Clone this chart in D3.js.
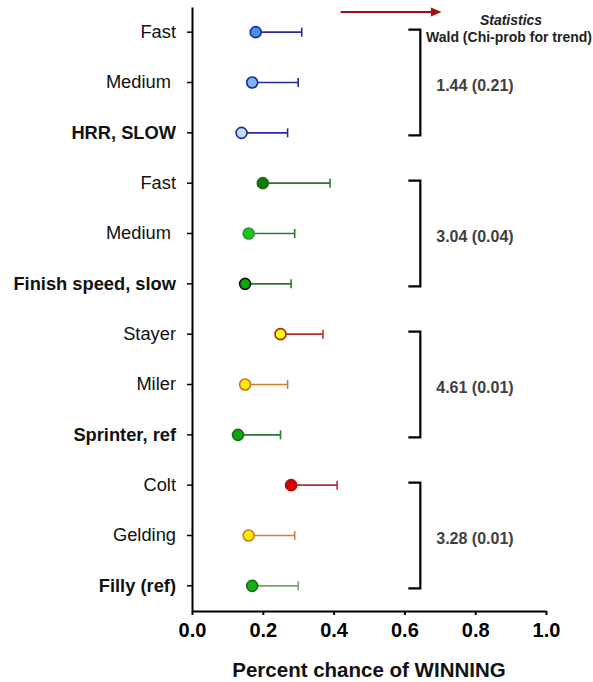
<!DOCTYPE html>
<html>
<head>
<meta charset="utf-8">
<script src="https://cdn.jsdelivr.net/npm/d3@7"></script>
<style>
  html, body { margin: 0; padding: 0; background: #fff; }
  svg { display: block; font-family: "Liberation Sans", Arial, sans-serif; }
  text { white-space: pre; }
</style>
</head>
<body>
<svg id="chart" width="593" height="682"></svg>
<script>
// ---- data ----
const categories = ["Fast", "Medium ", "HRR, SLOW",
                    "Fast", "Medium ", "Finish speed, slow",
                    "Stayer", "Miler", "Sprinter, ref",
                    "Colt", "Gelding", "Filly (ref)"];
const referenceRows = ["HRR, SLOW", "Finish speed, slow", "Sprinter, ref", "Filly (ref)"];
const estimates = [0.18, 0.17, 0.14, 0.20, 0.16, 0.15, 0.25, 0.15, 0.13, 0.28, 0.16, 0.17];
const upperCI   = [0.31, 0.30, 0.27, 0.39, 0.29, 0.28, 0.37, 0.27, 0.25, 0.41, 0.29, 0.30];
const groupStats = ["1.44 (0.21)", "3.04 (0.04)", "4.61 (0.01)", "3.28 (0.01)"];
const groupSize = 3;
const xTicks = [0, 0.2, 0.4, 0.6, 0.8, 1.0];

// ---- styles ----
const fillColors   = ["#4a8ef0", "#7db0f4", "#c6dcf6",
                      "#0b7a0b", "#1ec41e", "#0aa80a",
                      "#ffff00", "#ffee00", "#0aa80a",
                      "#e00000", "#ffee00", "#14b014"];
const strokeColors = ["#1c2a9a", "#1c2a9a", "#1c2a9a",
                      "#1c6a1c", "#2a9a2a", "#111111",
                      "#b02020", "#d07020", "#1c6a1c",
                      "#a01010", "#d07a20", "#1c6a1c"];
const lineColors   = ["#2a2aa0", "#2a2aa0", "#2a2aa0",
                      "#2a7a2a", "#2a7a2a", "#2a7a2a",
                      "#b83030", "#d07a30", "#2a7a2a",
                      "#b83030", "#d08030", "#70a870"];

const svg = d3.select("#chart");
const x = d3.scaleLinear().domain([0, 1]).range([192, 546]);
const y = d3.scaleBand().domain(d3.range(categories.length)).range([7, 611]).padding(0);
const yc = i => y(i) + y.bandwidth() / 2;

// ---- axes ----
const xAxis = svg.append("g")
  .attr("transform", "translate(0,611)")
  .call(d3.axisBottom(x).tickValues(xTicks).tickFormat(d3.format(".1f")).tickSizeInner(4).tickSizeOuter(0).tickPadding(8));
xAxis.select(".domain").attr("stroke", "#000").attr("stroke-width", 2);
xAxis.selectAll(".tick line").attr("stroke", "#000").attr("stroke-width", 2);
xAxis.selectAll(".tick text").attr("font-size", 20).attr("font-weight", "bold").attr("fill", "#000")
  .attr("font-family", "Liberation Sans, Arial, sans-serif");

const yAxis = svg.append("g")
  .attr("transform", "translate(192,0)")
  .call(d3.axisLeft(y).tickFormat(i => categories[i]).tickSizeInner(5).tickSizeOuter(0).tickPadding(11));
yAxis.select(".domain").attr("stroke", "#000").attr("stroke-width", 2);
yAxis.selectAll(".tick line").attr("stroke", "#000").attr("stroke-width", 1.5);
yAxis.selectAll(".tick text")
  .attr("font-size", 18.3)
  .attr("font-family", "Liberation Sans, Arial, sans-serif")
  .attr("fill", "#111")
  .attr("font-weight", i => referenceRows.includes(categories[i]) ? "bold" : "normal")
  .style("white-space", "pre");

// axis title
svg.append("text")
  .attr("x", (x(0) + x(1)) / 2).attr("y", 677)
  .attr("text-anchor", "middle")
  .attr("font-size", 20.5).attr("font-weight", "bold").attr("fill", "#111")
  .text("Percent chance of WINNING");

// ---- error bars ----
const rows = d3.range(categories.length);
const bars = svg.append("g");
bars.selectAll("line.err").data(rows).join("line")
  .attr("class", "err")
  .attr("x1", i => x(estimates[i])).attr("x2", i => x(upperCI[i]))
  .attr("y1", yc).attr("y2", yc)
  .attr("stroke", i => lineColors[i]).attr("stroke-width", 1.6);
bars.selectAll("line.cap").data(rows).join("line")
  .attr("class", "cap")
  .attr("x1", i => x(upperCI[i])).attr("x2", i => x(upperCI[i]))
  .attr("y1", i => yc(i) - 4.5).attr("y2", i => yc(i) + 4.5)
  .attr("stroke", i => lineColors[i]).attr("stroke-width", 1.6);
bars.selectAll("circle").data(rows).join("circle")
  .attr("cx", i => x(estimates[i])).attr("cy", yc).attr("r", 5.5)
  .attr("fill", i => fillColors[i]).attr("stroke", i => strokeColors[i]).attr("stroke-width", 1.6);

// ---- brackets & statistics ----
const bx = x(0.645), arm = 12;
const br = svg.append("g");
groupStats.forEach((s, g) => {
  const top = yc(g * groupSize) - 2.5;
  const bot = yc(g * groupSize + groupSize - 1) + 2.5;
  br.append("path")
    .attr("d", `M${bx - arm},${top}H${bx}V${bot}H${bx - arm}`)
    .attr("fill", "none").attr("stroke", "#000").attr("stroke-width", 2.2);
  br.append("text")
    .attr("x", x(0.69)).attr("y", yc(g * groupSize + 1) + 3)
    .attr("dy", "0.35em")
    .attr("font-size", 16).attr("font-weight", "bold").attr("fill", "#404040")
    .text(s);
});

// ---- header annotation ----
const arrowY = 12;
svg.append("line")
  .attr("x1", x(0.42)).attr("x2", x(0.68))
  .attr("y1", arrowY).attr("y2", arrowY)
  .attr("stroke", "#a01010").attr("stroke-width", 2);
svg.append("path")
  .attr("d", `M${x(0.675)},${arrowY - 4.5}L${x(0.705)},${arrowY}L${x(0.675)},${arrowY + 4.5}Z`)
  .attr("fill", "#a01010");
svg.append("text")
  .attr("x", 511).attr("y", 25)
  .attr("text-anchor", "middle")
  .attr("font-size", 14).attr("font-weight", "bold").attr("font-style", "italic").attr("fill", "#222")
  .text("Statistics");
svg.append("text")
  .attr("x", 509).attr("y", 42)
  .attr("text-anchor", "middle")
  .attr("font-size", 14).attr("font-weight", "bold").attr("fill", "#222")
  .text("Wald (Chi-prob for trend)");
</script>
</body>
</html>
